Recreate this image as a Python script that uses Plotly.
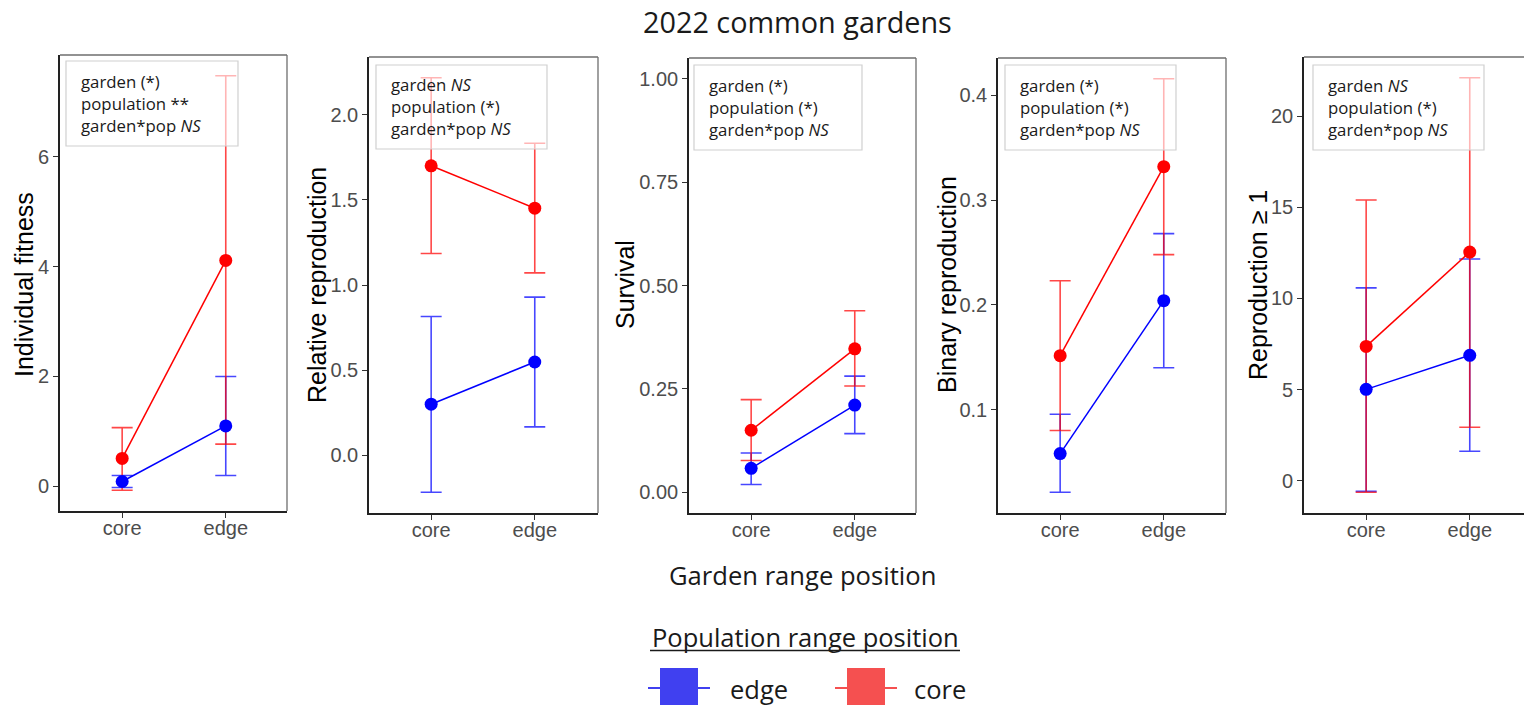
import plotly.graph_objects as go

W, H = 1524, 706

# ---------------- data ----------------
gardens = ["core", "edge"]
populations = ["edge", "core"]          # legend order
pop_colors = {"edge": "#0000ff", "core": "#ff0000"}
pop_err_colors = {"edge": "rgba(0,0,255,0.72)", "core": "rgba(255,0,0,0.72)"}

panel_titles = ["Individual fitness", "Relative reproduction", "Survival",
                "Binary reproduction", "Reproduction \u2265 1"]

# means per panel: {population: [core garden, edge garden]}
fitness_mean = {"edge": [0.09, 1.10], "core": [0.51, 4.11]}
fitness_low = {"edge": [-0.02, 0.20], "core": [-0.07, 0.77]}
fitness_high = {"edge": [0.20, 2.00], "core": [1.07, 7.47]}

relrep_mean = {"edge": [0.30, 0.548], "core": [1.70, 1.451]}
relrep_low = {"edge": [-0.217, 0.167], "core": [1.185, 1.071]}
relrep_high = {"edge": [0.815, 0.929], "core": [2.217, 1.832]}

surv_mean = {"edge": [0.058, 0.211], "core": [0.150, 0.347]}
surv_low = {"edge": [0.019, 0.142], "core": [0.077, 0.257]}
surv_high = {"edge": [0.095, 0.281], "core": [0.224, 0.439]}

binrep_mean = {"edge": [0.058, 0.204], "core": [0.1515, 0.332]}
binrep_low = {"edge": [0.021, 0.140], "core": [0.080, 0.248]}
binrep_high = {"edge": [0.0955, 0.268], "core": [0.223, 0.416]}

rep1_mean = {"edge": [5.01, 6.88], "core": [7.37, 12.55]}
rep1_low = {"edge": [-0.59, 1.61], "core": [-0.64, 2.93]}
rep1_high = {"edge": [10.58, 12.17], "core": [15.41, 22.12]}

panel_means = [fitness_mean, relrep_mean, surv_mean, binrep_mean, rep1_mean]
panel_lows = [fitness_low, relrep_low, surv_low, binrep_low, rep1_low]
panel_highs = [fitness_high, relrep_high, surv_high, binrep_high, rep1_high]

panel_tickvals = [[0, 2, 4, 6], [0.0, 0.5, 1.0, 1.5, 2.0], [0.0, 0.25, 0.5, 0.75, 1.0],
                  [0.1, 0.2, 0.3, 0.4], [0, 5, 10, 15, 20]]
panel_ticktext = [["0", "2", "4", "6"], ["0.0", "0.5", "1.0", "1.5", "2.0"],
                  ["0.00", "0.25", "0.50", "0.75", "1.00"], ["0.1", "0.2", "0.3", "0.4"],
                  ["0", "5", "10", "15", "20"]]

stats_text = [
    ["garden (*)", "population **", "garden*pop <i>NS</i>"],
    ["garden <i>NS</i>", "population (*)", "garden*pop <i>NS</i>"],
    ["garden (*)", "population (*)", "garden*pop <i>NS</i>"],
    ["garden (*)", "population (*)", "garden*pop <i>NS</i>"],
    ["garden <i>NS</i>", "population (*)", "garden*pop <i>NS</i>"],
]

# ---------------- layout geometry (pixels) ----------------
panel_x = [(60, 287), (369, 598), (689, 916), (998, 1226), (1304, 1524)]
panel_y = [(55, 511), (57, 513), (58, 513), (58, 513), (57, 513)]
ytitle_x = [24, 317, 625, 947, 1258]
box_px = [(66, 61, 238, 146), (376, 65, 547, 149), (694, 65, 862, 150),
          (1005, 65, 1176, 150), (1313, 65, 1484, 150)]
px_per_cat = 103.6


def fx(px):
    return px / W


def fy(py):
    return 1 - py / H


fig = go.Figure()
layout = dict(
    width=W, height=H, margin=dict(l=0, r=0, t=0, b=0),
    paper_bgcolor="white", plot_bgcolor="white", showlegend=False,
)
shapes = []
annotations = []

tick_font = dict(family="Liberation Sans, Arial", size=20, color="#4d4d4d")

for i in range(5):
    n = i + 1
    xa = "x" if n == 1 else f"x{n}"
    ya = "y" if n == 1 else f"y{n}"
    means, lows, highs = panel_means[i], panel_lows[i], panel_highs[i]

    # error bars first (under points/lines)
    for pop in populations:
        m = means[pop]
        fig.add_trace(go.Scatter(
            x=gardens, y=m, mode="markers", xaxis=xa, yaxis=ya,
            marker=dict(size=1, color="rgba(0,0,0,0)"),
            error_y=dict(type="data", symmetric=False,
                         array=[h - v for h, v in zip(highs[pop], m)],
                         arrayminus=[v - l for v, l in zip(m, lows[pop])],
                         color=pop_err_colors[pop], thickness=1.6, width=10.5),
            hoverinfo="skip",
        ))
    for pop in populations:
        fig.add_trace(go.Scatter(
            x=gardens, y=means[pop], mode="lines+markers", xaxis=xa, yaxis=ya,
            name=pop,
            line=dict(color=pop_colors[pop], width=1.5),
            marker=dict(color=pop_colors[pop], size=13),
        ))

    # y range (ggplot-like 5% expansion), survival fixed 0-1
    if i == 2:
        lo, hi = 0.0, 1.0
    else:
        lo = min(min(v) for v in lows.values())
        hi = max(max(v) for v in highs.values())
    pad = 0.05 * (hi - lo)

    x0, x1 = panel_x[i]
    y0, y1 = panel_y[i]
    xr_max = -0.6 + (x1 - x0) / px_per_cat
    layout["xaxis" + ("" if n == 1 else str(n))] = dict(
        domain=[fx(x0), fx(x1)], anchor=ya, type="category",
        range=[-0.6, xr_max], showgrid=False, zeroline=False,
        showline=True, linecolor="#222", linewidth=1.6,
        ticks="outside", ticklen=5, tickwidth=1.2, tickcolor="#333",
        ticklabelstandoff=-7,
        tickfont=tick_font, fixedrange=True,
    )
    layout["yaxis" + ("" if n == 1 else str(n))] = dict(
        domain=[fy(y1), fy(y0)], anchor=xa,
        range=[lo - pad, hi + pad], showgrid=False, zeroline=False,
        showline=True, linecolor="#222", linewidth=1.6,
        ticks="outside", ticklen=5, tickwidth=1.2, tickcolor="#333",
        tickvals=panel_tickvals[i], ticktext=panel_ticktext[i],
        tickfont=tick_font, fixedrange=True,
    )

    # top / right border (gray)
    shapes.append(dict(type="line", xref="paper", yref="paper",
                       x0=fx(x0), x1=fx(x1), y0=fy(y0), y1=fy(y0),
                       line=dict(color="#6e6e6e", width=1.3), layer="above"))
    if i < 4:
        shapes.append(dict(type="line", xref="paper", yref="paper",
                           x0=fx(x1), x1=fx(x1), y0=fy(y0), y1=fy(y1),
                           line=dict(color="#6e6e6e", width=1.3), layer="above"))

    # stats box
    bx0, by0, bx1, by1 = box_px[i]
    shapes.append(dict(type="rect", xref="paper", yref="paper",
                       x0=fx(bx0), x1=fx(bx1), y0=fy(by1), y1=fy(by0),
                       line=dict(color="#d0d0d0", width=1.2),
                       fillcolor="rgba(255,255,255,0.6)", layer="above"))
    annotations.append(dict(
        xref="paper", yref="paper", x=fx(bx0 + 13), y=fy((by0 + by1) / 2),
        xanchor="left", yanchor="middle", align="left", showarrow=False,
        text="<br>".join(stats_text[i]),
        font=dict(family="Open Sans", size=16.8, color="#1a1a1a"),
    ))

    # y axis title
    annotations.append(dict(
        xref="paper", yref="paper", x=fx(ytitle_x[i]), y=fy(285),
        xanchor="center", yanchor="middle", textangle=-90, showarrow=False,
        text=panel_titles[i],
        font=dict(family="Liberation Sans, Arial", size=25, color="black"),
    ))

# overall title and x title
annotations.append(dict(xref="paper", yref="paper", x=fx(798), y=fy(22),
                        xanchor="center", yanchor="middle", showarrow=False,
                        text="2022 common gardens",
                        font=dict(family="Open Sans", size=28.8, color="#1a1a1a")))
annotations.append(dict(xref="paper", yref="paper", x=fx(802), y=fy(575),
                        xanchor="center", yanchor="middle", showarrow=False,
                        text="Garden range position",
                        font=dict(family="Open Sans", size=25.6, color="#1a1a1a")))

# custom legend
annotations.append(dict(xref="paper", yref="paper", x=fx(805), y=fy(637),
                        xanchor="center", yanchor="middle", showarrow=False,
                        text="Population range position",
                        font=dict(family="Open Sans", size=25.5, color="#1a1a1a")))
shapes.append(dict(type="line", xref="paper", yref="paper",
                   x0=fx(650), x1=fx(960), y0=fy(650.5), y1=fy(650.5),
                   line=dict(color="#1a1a1a", width=1.5)))
legend_items = [("edge", 660, 728), ("core", 847, 912)]
legend_fill = {"edge": "#4040f0", "core": "#f55050"}
for pop, sx, tx in legend_items:
    shapes.append(dict(type="rect", xref="paper", yref="paper",
                       x0=fx(sx), x1=fx(sx + 38), y0=fy(705), y1=fy(668),
                       line=dict(width=0), fillcolor=legend_fill[pop]))
    shapes.append(dict(type="line", xref="paper", yref="paper",
                       x0=fx(sx - 12), x1=fx(sx + 50), y0=fy(688), y1=fy(688),
                       line=dict(color=legend_fill[pop], width=2.2)))
    annotations.append(dict(xref="paper", yref="paper", x=fx(tx), y=fy(689),
                            xanchor="left", yanchor="middle", showarrow=False,
                            text=pop,
                            font=dict(family="Open Sans", size=25.5, color="#1a1a1a")))

layout["shapes"] = shapes
layout["annotations"] = annotations
fig.update_layout(**layout)
fig.write_html("out.html")
